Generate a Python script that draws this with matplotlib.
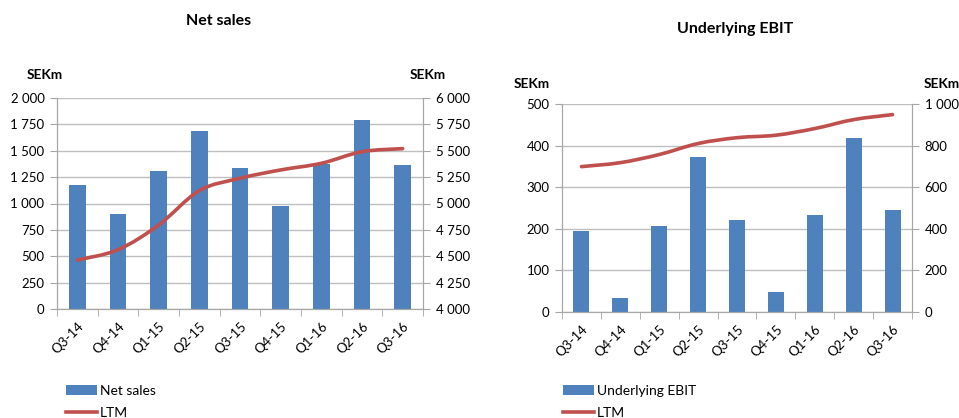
import matplotlib
matplotlib.use("Agg")
import matplotlib.pyplot as plt
import numpy as np
from matplotlib.path import Path
from matplotlib.patches import PathPatch
from matplotlib.lines import Line2D
from matplotlib.patches import Patch
from matplotlib.ticker import FuncFormatter, MultipleLocator

plt.rcParams['font.family'] = ['Lato', 'DejaVu Sans']

quarters = ["Q3-14", "Q4-14", "Q1-15", "Q2-15", "Q3-15", "Q4-15", "Q1-16", "Q2-16", "Q3-16"]

net_sales = [1175, 898, 1308, 1687, 1336, 979, 1374, 1794, 1368]
net_sales_ltm = [4464, 4562, 4796, 5122, 5239, 5318, 5381, 5491, 5520]

ebit = [194, 34, 206, 372, 222, 47, 234, 419, 246]
ebit_ltm = [699, 718, 757, 810, 838, 850, 882, 925, 949]

BAR = '#4F81BD'
LINE = '#C0504D'
GRID = '#BFBFBF'
SPINE = '#A6A6A6'


def sep(v, pos):
    return f"{int(round(v)):,}".replace(",", " ")


def smooth_path(xs, ys):
    # Excel-style smoothed line: Catmull-Rom as cubic Bezier segments
    pts = np.column_stack([xs, ys]).astype(float)
    verts = [pts[0]]
    codes = [Path.MOVETO]
    n = len(pts)
    for i in range(n - 1):
        p0 = pts[i - 1] if i > 0 else pts[i]
        p1 = pts[i]
        p2 = pts[i + 1]
        p3 = pts[i + 2] if i + 2 < n else pts[i + 1]
        c1 = p1 + (p2 - p0) / 6.0
        c2 = p2 - (p3 - p1) / 6.0
        verts += [c1, c2, p2]
        codes += [Path.CURVE4] * 3
    return Path(verts, codes)


def panel(rect, bars, ltm, ylim, ystep, y2lim, y2step, title, title_xy,
          unit_l, unit_r, bar_label, leg_x):
    ax = fig.add_axes(rect)
    x = np.arange(len(quarters))
    ax.bar(x, bars, width=0.41, color=BAR, zorder=2)
    ax.set_xlim(-0.5, len(quarters) - 0.5)
    ax.set_ylim(*ylim)
    ax.yaxis.set_major_locator(MultipleLocator(ystep))
    ax.yaxis.set_major_formatter(FuncFormatter(sep))
    ax.grid(axis='y', color=GRID, linewidth=1, zorder=0)
    ax.set_axisbelow(True)
    ax.set_xticks(x)
    ax.set_xticklabels(quarters, rotation=45, ha='right', rotation_mode='anchor')
    ax.set_xticks(np.arange(-0.5, len(quarters)), minor=True)
    ax.tick_params(axis='x', which='major', length=0, pad=8, labelsize=9.5)
    ax.tick_params(axis='x', which='minor', length=5, color=SPINE, direction='out')
    ax.tick_params(axis='y', length=5, color=SPINE, labelsize=9.5, pad=4)
    ax.spines['top'].set_visible(False)
    for s in ('left', 'right', 'bottom'):
        ax.spines[s].set_color(SPINE)

    ax2 = ax.twinx()
    ax2.set_ylim(*y2lim)
    ax2.yaxis.set_major_locator(MultipleLocator(y2step))
    ax2.yaxis.set_major_formatter(FuncFormatter(sep))
    ax2.tick_params(axis='y', length=5, color=SPINE, labelsize=9.5, pad=4)
    ax2.spines['top'].set_visible(False)
    for s in ('left', 'right', 'bottom'):
        ax2.spines[s].set_color(SPINE)
    ax2.add_patch(PathPatch(smooth_path(x, ltm), facecolor='none', edgecolor=LINE,
                            linewidth=2.6, capstyle='round', transform=ax2.transData))

    fig.text(title_xy[0], title_xy[1], title, ha='center', va='center',
             fontsize=11.5, fontweight='bold')
    fig.text(unit_l[0], unit_l[1], "SEKm", ha='left', va='center', fontsize=9.8, fontweight='bold')
    fig.text(unit_r[0], unit_r[1], "SEKm", ha='left', va='center', fontsize=9.8, fontweight='bold')

    handles = [Patch(facecolor=BAR, edgecolor='none'),
               Line2D([], [], color=LINE, linewidth=2.6)]
    ax.legend(handles, [bar_label, "LTM"], loc='upper left',
              bbox_to_anchor=(leg_x, 0.080), bbox_transform=fig.transFigure,
              frameon=False, fontsize=10, handlelength=2.2, handleheight=0.75,
              handletextpad=0.25, labelspacing=0.75, borderpad=0, borderaxespad=0)
    return ax, ax2


fig = plt.figure(figsize=(9.59, 4.18), dpi=100)

panel([57 / 959, 109 / 418, 366 / 959, 211 / 418], net_sales, net_sales_ltm,
      (0, 2000), 250, (4000, 6000), 250, "Net sales", (219 / 959, 1 - 21 / 418),
      (27 / 959, 1 - 75 / 418), (410 / 959, 1 - 75 / 418), "Net sales", 66 / 959)

panel([562 / 959, 106 / 418, 350 / 959, 208 / 418], ebit, ebit_ltm,
      (0, 500), 100, (0, 1000), 200, "Underlying EBIT", (735 / 959, 1 - 29 / 418),
      (514 / 959, 1 - 84 / 418), (924 / 959, 1 - 84 / 418), "Underlying EBIT", 563 / 959)

fig.savefig("out.png", dpi=100)
